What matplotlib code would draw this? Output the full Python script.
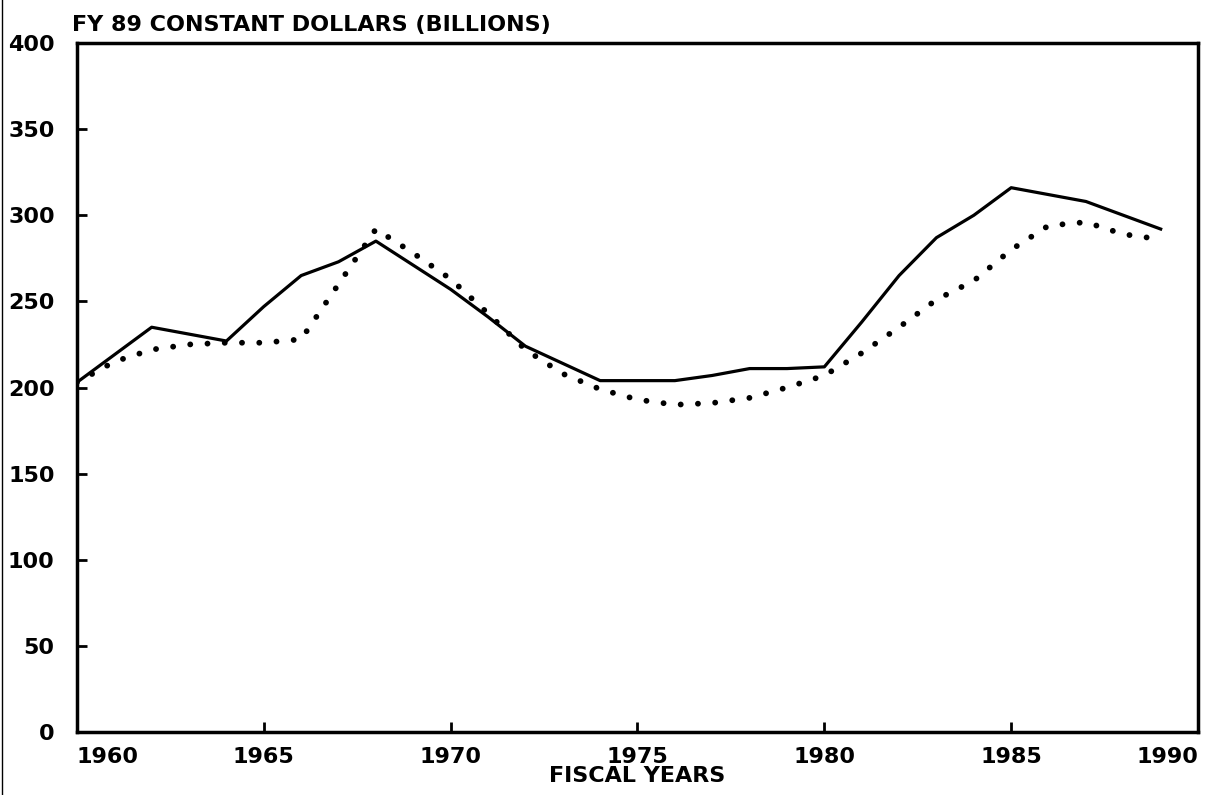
import matplotlib
matplotlib.use("Agg")
import matplotlib.pyplot as plt
from matplotlib.lines import Line2D

# fiscal years and the two series (FY 89 constant dollars, billions)
years = list(range(1960, 1990))
solid_vals = [203, 219, 235, 231, 227, 247, 265, 273, 285, 271,
              257, 241, 224, 214, 204, 204, 204, 207, 211, 211,
              212, 238, 265, 287, 300, 316, 312, 308, 300, 292]
dotted_vals = [203, 215, 222, 225, 226, 226, 228, 260, 292, 278,
               263, 243, 222, 208, 199, 193, 190, 191, 194, 200,
               207, 220, 235, 251, 262, 280, 294, 296, 289, 286]

x_ticks = [1960, 1965, 1970, 1975, 1980, 1985, 1990]
y_ticks = [0, 50, 100, 150, 200, 250, 300, 350, 400]
title = "FY 89 CONSTANT DOLLARS (BILLIONS)"

fig = plt.figure(figsize=(12.06, 7.95), dpi=100)
ax = fig.add_axes([0.0638, 0.0792, 0.9296, 0.8667])

ax.plot(years, solid_vals, color="black", lw=2.3, solid_joinstyle="round")
ax.plot(years, dotted_vals, color="black", lw=4.2,
        linestyle=(0, (0.01, 2.95)), dash_capstyle="round")

ax.set_xlim(1960, 1990)
ax.set_ylim(0, 400)
ax.set_xticks(x_ticks)
ax.set_yticks(y_ticks)

tick_font = dict(family="DejaVu Sans", weight="bold", size=16)
ax.set_xticklabels([str(t) for t in x_ticks], fontdict=tick_font)
ax.set_yticklabels([str(t) for t in y_ticks], fontdict=tick_font)
xl = ax.get_xticklabels()
xl[0].set_horizontalalignment("left")
xl[-1].set_horizontalalignment("right")

ax.tick_params(axis="both", direction="in", length=7, width=2, color="black")
ax.tick_params(axis="x", pad=11)
ax.tick_params(axis="y", pad=16)
for s in ax.spines.values():
    s.set_linewidth(2.5)

ax.set_xlabel("FISCAL YEARS", family="DejaVu Sans",
              weight="bold", size=16, labelpad=-1)
fig.text(0.06, 0.969, title, family="DejaVu Sans", weight="bold", size=16,
         ha="left", va="center")

# scan edge on the left side
fig.add_artist(Line2D([0.002, 0.002], [0, 1], color="black", lw=1,
                      transform=fig.transFigure))

fig.savefig("out.png", dpi=100, facecolor="white")
